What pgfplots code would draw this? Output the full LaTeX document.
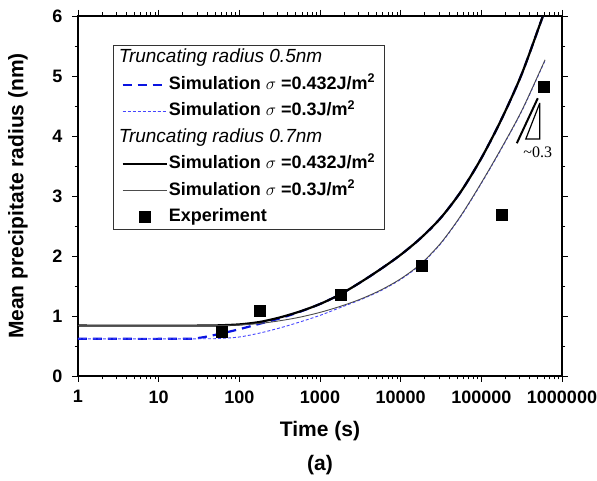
\documentclass[border=0pt]{standalone}
\usepackage{pgfplots}
\pgfplotsset{compat=1.18}
\usepackage{fontspec}
\setmainfont{Liberation Sans}
\newfontfamily\seriffont{Liberation Serif}
\definecolor{dotblue}{RGB}{70,70,255}
\definecolor{dashblue}{RGB}{10,20,225}
\begin{document}
\begin{tikzpicture}
\begin{axis}[
  name=ax,
  scale only axis,
  width=484pt, height=360pt,
  xmode=log,
  xmin=1, xmax=1000000,
  ymin=0, ymax=6,
  xtick={1,10,100,1000,10000,100000,1000000},
  xticklabels={1,10,100,1000,10000,100000,1000000},
  minor xtick={2,3,4,5,6,7,8,9,20,30,40,50,60,70,80,90,200,300,400,500,600,700,800,900,2000,3000,4000,5000,6000,7000,8000,9000,20000,30000,40000,50000,60000,70000,80000,90000,200000,300000,400000,500000,600000,700000,800000,900000},
  ytick={0,1,2,3,4,5,6},
  yticklabels={0,1,2,3,4,5,6},
  minor ytick={0.5,1.5,2.5,3.5,4.5,5.5},
  tick align=outside,
  major tick length=6pt,
  minor tick length=3.5pt,
  every tick/.style={black, line width=0.9pt},
  axis line style={line width=1.2pt},
  ticklabel style={font=\fontsize{18}{20}\selectfont\bfseries},
  xticklabel style={yshift=-5pt},
  yticklabel style={xshift=-6pt},
  xlabel={Time (s)},
  ylabel={Mean precipitate radius (nm)},
  every axis x label/.style={at={(axis description cs:0.5,-0.153)}, anchor=center, font=\fontsize{21}{24}\selectfont\bfseries},
  every axis y label/.style={at={(axis description cs:-0.124,0.5)}, anchor=center, rotate=90, font=\fontsize{21}{24}\selectfont\bfseries},
  legend image code/.code={\draw[mark repeat=2,mark phase=2,#1] plot coordinates {(0pt,0pt) (22pt,0pt) (44pt,0pt)};},
  legend style={at={(axis description cs:0,1)}, anchor=north west, xshift=35pt, yshift=-29pt,
    draw=black!80, line width=1.2pt, font=\fontsize{18}{20}\selectfont\bfseries,
    inner xsep=8pt, inner ysep=3pt, row sep=7.5pt,
    nodes={inner sep=1pt, text height=13pt, text depth=4pt}},
  legend cell align=left,
]
\addlegendimage{empty legend}
\addlegendentry{\hspace*{-50pt}\mdseries\itshape\fontsize{19}{21}\selectfont Truncating radius 0.5nm}

\addplot[dashblue, line width=2.2pt, dash pattern=on 9pt off 6pt, smooth, tension=0.5] coordinates {
(1,0.62)(20,0.62)(31.6,0.635)(56.2,0.7)(100,0.78)(178,0.87)(316,0.96)(562,1.07)(1000,1.2)(1778,1.36)(3162,1.56)(5623,1.78)(10000,2.02)(17783,2.30)(31623,2.64)(56234,3.08)(100000,3.63)(177828,4.28)(316228,5.03)(562341,5.95)(582000,6.0)};
\addlegendentry{Simulation $\sigma$ =0.432J/m\textsuperscript{2}}

\addplot[dotblue, line width=0.9pt, dash pattern=on 3pt off 2pt, smooth, tension=0.5] coordinates {
(1,0.62)(31.6,0.62)(56.2,0.625)(100,0.65)(178,0.715)(316,0.8)(562,0.9)(1000,1.01)(1778,1.14)(3162,1.27)(5623,1.42)(10000,1.61)(17783,1.86)(31623,2.21)(56234,2.67)(100000,3.21)(177828,3.79)(316228,4.41)(562341,5.14)(616600,5.26)};
\addlegendentry{Simulation $\sigma$ =0.3J/m\textsuperscript{2}}

\addlegendimage{empty legend}
\addlegendentry{\hspace*{-50pt}\mdseries\itshape\fontsize{19}{21}\selectfont Truncating radius 0.7nm}

\addplot[black, line width=2.2pt, smooth, tension=0.5] coordinates {
(1,0.84)(31.6,0.84)(56.2,0.845)(100,0.86)(178,0.9)(316,0.975)(562,1.075)(1000,1.2)(1778,1.36)(3162,1.56)(5623,1.78)(10000,2.02)(17783,2.30)(31623,2.64)(56234,3.08)(100000,3.63)(177828,4.28)(316228,5.03)(562341,5.95)(582000,6.0)};
\addlegendentry{Simulation $\sigma$ =0.432J/m\textsuperscript{2}}

\addplot[black!70, line width=0.9pt, smooth, tension=0.5] coordinates {
(1,0.84)(31.6,0.84)(56.2,0.842)(100,0.85)(178,0.875)(316,0.92)(562,0.98)(1000,1.06)(1778,1.16)(3162,1.28)(5623,1.43)(10000,1.62)(17783,1.87)(31623,2.22)(56234,2.68)(100000,3.22)(177828,3.8)(316228,4.42)(562341,5.15)(616600,5.27)};
\addlegendentry{Simulation $\sigma$ =0.3J/m\textsuperscript{2}}

\addplot[only marks, mark=square*, mark size=5.5pt, black, line width=0.5pt] coordinates {
(60,0.73)(180,1.09)(1800,1.36)(18000,1.83)(180000,2.69)(600000,4.82)};
\addlegendentry{Experiment}

\addplot[black, line width=1.2pt, forget plot] coordinates {(530900,4.55)(355900,3.95)(530900,3.95)(530900,4.55)};
\addplot[black, line width=2pt, forget plot] coordinates {(275400,3.88)(501000,4.63)};
\node[font=\seriffont\fontsize{16}{18}\selectfont] at (axis cs:501000,3.73) {\textasciitilde 0.3};
\end{axis}
\node[font=\fontsize{21}{24}\selectfont\bfseries] at ([yshift=-89pt]ax.south) {(a)};
\pgfresetboundingbox
\path[use as bounding box] ([xshift=-78pt,yshift=-105pt]ax.south west) rectangle ([xshift=35pt,yshift=16pt]ax.north east);
\end{tikzpicture}
\end{document}
